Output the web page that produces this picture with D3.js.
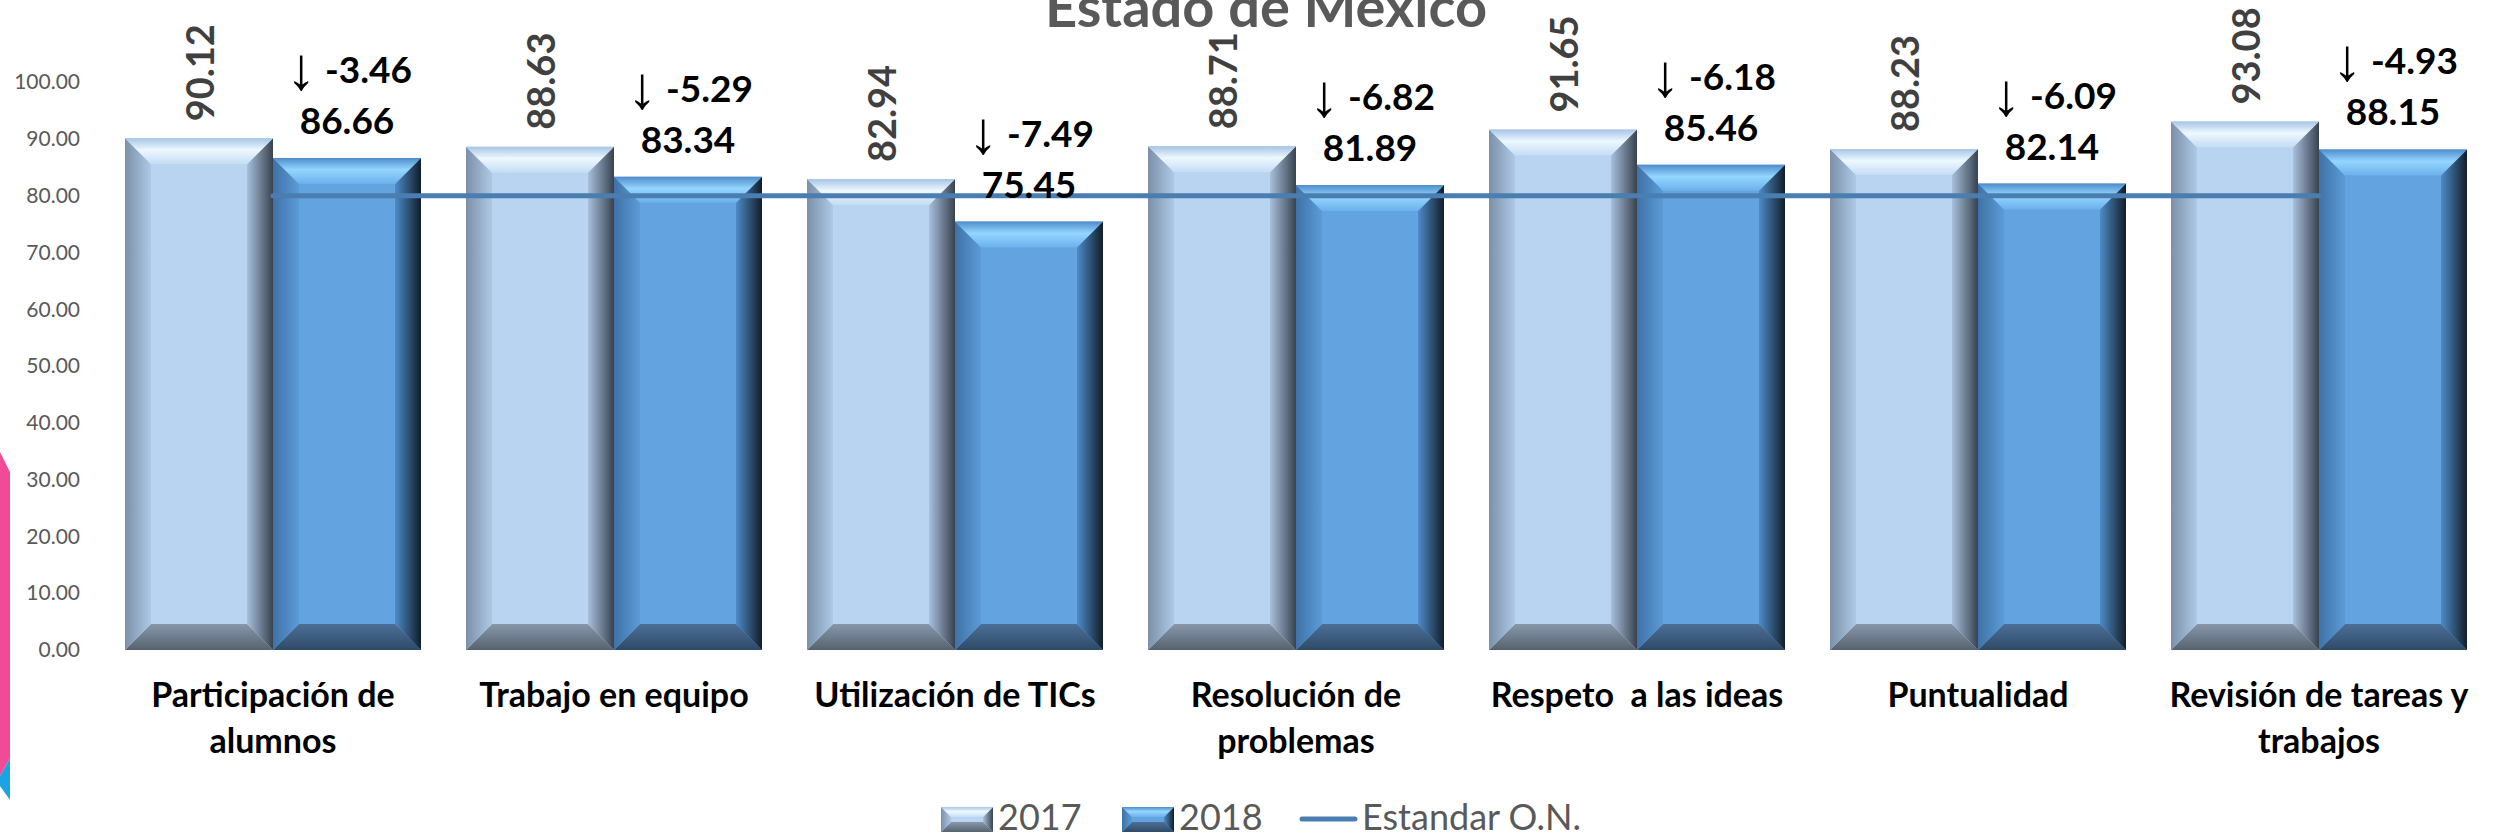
<!DOCTYPE html>
<html>
<head>
<meta charset="utf-8">
<script src="https://cdn.jsdelivr.net/npm/d3@7"></script>
<style>
  html, body { margin: 0; padding: 0; background: #fff; }
  svg { display: block; }
  text { font-family: Lato, "Open Sans", sans-serif; white-space: pre; }
</style>
</head>
<body>
<svg id="chart" width="2501" height="838"></svg>
<script>
// ---- data ----
const title = "Estado de México";
const categories = [
  "Participación de\nalumnos",
  "Trabajo en equipo",
  "Utilización de TICs",
  "Resolución de\nproblemas",
  "Respeto  a las ideas",
  "Puntualidad",
  "Revisión de tareas y\ntrabajos"
];
const series = ["2017", "2018"];
const values2017 = [90.12, 88.63, 82.94, 88.71, 91.65, 88.23, 93.08];
const values2018 = [86.66, 83.34, 75.45, 81.89, 85.46, 82.14, 88.15];
const differences = [-3.46, -5.29, -7.49, -6.82, -6.18, -6.09, -4.93];
const standardName = "Estandar O.N.";
const standardValues = [80, 80, 80, 80, 80, 80, 80];
const yTicks = [0, 10, 20, 30, 40, 50, 60, 70, 80, 90, 100];

// ---- layout ----
const svg = d3.select("#chart");
const plotTop = 82.2, plotBottom = 650;
const fmt = v => d3.format(".2f")(v).replace("\u2212", "-");

const x = d3.scaleBand().domain(categories).range([102.5, 2489.5])
  .paddingInner(0.132).paddingOuter(0.066);
const xs = d3.scaleBand().domain(series).range([0, x.bandwidth()]).padding(0);
const y = d3.scaleLinear().domain([0, 100]).range([plotBottom, plotTop]);

const palettes = {
  "2017": {
    face: "#b9d4f1",
    top: ["#a7c5e6", "#eef8ff", "#c4dcf3"],
    left: ["#7c90a8", "#aec9e6"],
    right: ["#a8c0dc", "#38424f"],
    bottom: ["#8797aa", "#56636f"]
  },
  "2018": {
    face: "#62a3e0",
    top: ["#4f8ccb", "#93d6ff", "#6cb0ec"],
    left: ["#3f72a6", "#5c9bd8"],
    right: ["#4d8bc7", "#121d28"],
    bottom: ["#4c6f96", "#2f4a68"]
  }
};

const defs = svg.append("defs");
function grad(id, stops, vertical) {
  const g = defs.append("linearGradient").attr("id", id)
    .attr("x1", 0).attr("y1", 0)
    .attr("x2", vertical ? 0 : 1).attr("y2", vertical ? 1 : 0);
  stops.forEach((c, i) => g.append("stop")
    .attr("offset", stops.length === 3 ? [0, 0.45, 1][i] : i / (stops.length - 1))
    .attr("stop-color", c));
}
series.forEach(s => {
  const p = palettes[s];
  grad("top" + s, p.top, true);
  grad("left" + s, p.left, false);
  grad("right" + s, p.right, false);
  grad("bottom" + s, p.bottom, true);
});

function bevelBar(g, x0, y0, w, h, b, s) {
  const p = palettes[s];
  b = Math.min(b, w / 2, h / 2);
  const x1 = x0 + w, y1 = y0 + h;
  g.append("rect").attr("x", x0).attr("y", y0).attr("width", w).attr("height", h).attr("fill", p.face);
  const poly = (pts, fill) => g.append("polygon")
    .attr("points", pts.map(d => d.join(",")).join(" ")).attr("fill", fill);
  poly([[x0, y1], [x1, y1], [x1 - b, y1 - b], [x0 + b, y1 - b]], `url(#bottom${s})`);
  poly([[x0, y0], [x0 + b, y0 + b], [x0 + b, y1 - b], [x0, y1]], `url(#left${s})`);
  poly([[x1, y0], [x1, y1], [x1 - b, y1 - b], [x1 - b, y0 + b]], `url(#right${s})`);
  poly([[x0, y0], [x1, y0], [x1 - b, y0 + b], [x0 + b, y0 + b]], `url(#top${s})`);
}

// ---- left decoration ----
svg.append("polygon").attr("points", "0,452 10,472 10,758 0,776").attr("fill", "#f14a97");
svg.append("polygon").attr("points", "0,776 10,758 10,800 0,786").attr("fill", "#1ba3e2");

// ---- title ----
svg.append("text").attr("x", 1266).attr("y", 27).attr("text-anchor", "middle")
  .attr("font-size", 56).attr("font-weight", 700).attr("fill", "#595959").text(title);

// ---- y axis ----
const yAxis = d3.axisLeft(y).tickValues(yTicks).tickFormat(d3.format(".2f")).tickSize(0).tickPadding(0);
const ya = svg.append("g").attr("transform", "translate(80,0)").call(yAxis);
ya.select(".domain").remove();
ya.selectAll("text").attr("font-family", "Lato, sans-serif").attr("font-size", 21).attr("fill", "#595959");

// ---- bars ----
const rows = categories.map((c, i) => ({ c, i, v2017: values2017[i], v2018: values2018[i], diff: differences[i], std: standardValues[i] }));
const bars = svg.append("g");
rows.forEach(r => {
  series.forEach(s => {
    const v = s === "2017" ? r.v2017 : r.v2018;
    const x0 = x(r.c) + xs(s);
    bevelBar(bars, x0, y(v), xs.bandwidth(), y(0) - y(v), 26, s);
  });
});

// ---- standard line ----
const line = d3.line().x(d => x(d.c) + x.bandwidth() / 2).y(d => y(d.std));
svg.append("path").datum(rows).attr("d", line).attr("fill", "none")
  .attr("stroke", "#4a7eb1").attr("stroke-width", 5).attr("stroke-linecap", "round");

// ---- labels ----
const lab = svg.append("g");
rows.forEach(r => {
  const cx17 = x(r.c) + xs("2017") + xs.bandwidth() / 2;
  const cx18 = x(r.c) + xs("2018") + xs.bandwidth() / 2;
  lab.append("text")
    .attr("transform", `translate(${cx17 + 1},${y(r.v2017) - 17}) rotate(-90)`)
    .attr("dy", "0.36em").attr("text-anchor", "start")
    .attr("font-size", 38).attr("font-weight", 700).attr("fill", "#404040")
    .text(fmt(r.v2017));
  lab.append("text").attr("x", cx18).attr("y", y(r.v2018) - 24).attr("text-anchor", "middle")
    .attr("font-size", 37).attr("font-weight", 700).attr("fill", "#000")
    .text(fmt(r.v2018));
  const dt = lab.append("text").attr("x", cx18 + 2).attr("y", y(r.v2018) - 75).attr("text-anchor", "middle")
    .attr("font-size", 37).attr("font-weight", 700).attr("fill", "#000");
  dt.append("tspan").attr("font-family", "Liberation Sans").attr("font-weight", 700)
    .attr("font-size", 60).attr("dy", 6).text("↓");
  dt.append("tspan").attr("dy", -6).text(" " + fmt(r.diff));
});

// ---- category labels ----
const catg = svg.append("g");
rows.forEach(r => {
  const t = catg.append("text").attr("x", x(r.c) + x.bandwidth() / 2).attr("y", 707)
    .attr("text-anchor", "middle").attr("font-size", 34).attr("font-weight", 700).attr("fill", "#000");
  r.c.split("\n").forEach((ln, k) => {
    t.append("tspan").attr("x", x(r.c) + x.bandwidth() / 2).attr("dy", k === 0 ? 0 : 46).text(ln);
  });
});

// ---- legend ----
const leg = svg.append("g");
const legendItems = [
  { name: series[0], type: "bar", x: 941 },
  { name: series[1], type: "bar", x: 1122 },
  { name: standardName, type: "line", x: 1300 }
];
legendItems.forEach(it => {
  if (it.type === "bar") {
    bevelBar(leg, it.x, 807, 52, 25, 10, it.name);
    leg.append("text").attr("x", it.x + 57).attr("y", 830).attr("font-size", 36).attr("fill", "#595959").text(it.name);
  } else {
    leg.append("line").attr("x1", it.x + 2).attr("x2", it.x + 55).attr("y1", 819).attr("y2", 819)
      .attr("stroke", "#4a7eb1").attr("stroke-width", 5).attr("stroke-linecap", "round");
    leg.append("text").attr("x", it.x + 62).attr("y", 830).attr("font-size", 36).attr("fill", "#595959").text(it.name);
  }
});
</script>
</body>
</html>
